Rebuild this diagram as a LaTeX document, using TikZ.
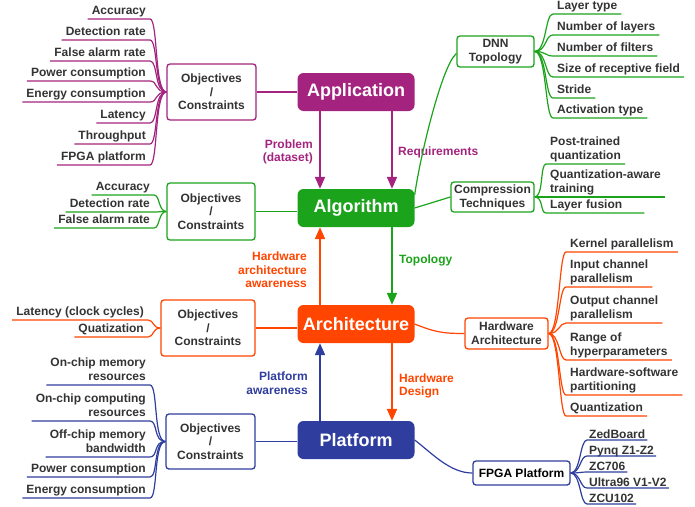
\documentclass[tikz,border=0pt]{standalone}
\usepackage{fontspec}
\setmainfont{Liberation Sans}
\usetikzlibrary{arrows.meta,calc}
\definecolor{cpur}{HTML}{A3237E}
\definecolor{cgre}{HTML}{1CA31C}
\definecolor{cora}{HTML}{FF4500}
\definecolor{cblu}{HTML}{2F3E9E}
\definecolor{ctxt}{HTML}{333333}
\begin{document}
\begin{tikzpicture}[x=1pt,y=-1pt,
 main/.style={rounded corners=6pt, minimum width=117pt, minimum height=38pt, text=white, font=\fontsize{18}{20}\selectfont\bfseries, inner sep=0pt},
 obj/.style={draw, line width=1.3pt, rounded corners=3pt, fill=white, text=ctxt, align=center, font=\fontsize{12}{13.5}\selectfont\bfseries, inner sep=0pt},
 lf/.style={text=ctxt, font=\fontsize{12}{14}\selectfont\bfseries, inner xsep=4pt, inner ysep=0pt, execute at end node=\strut},
 lleaf/.style={lf, align=right, anchor=south east},
 rleaf/.style={lf, align=left, anchor=south west},
 fleaf/.style={text=ctxt, font=\fontsize{12}{14}\selectfont\bfseries, inner xsep=2pt, inner ysep=0pt, text depth=1.5pt, anchor=south west},
 conn/.style={line width=1.2pt},
 arr/.style={line width=2pt, -{Triangle[length=12pt,width=10pt]}},
 lab/.style={font=\fontsize{12}{13.5}\selectfont\bfseries, inner sep=0pt}
]
\useasboundingbox (0,0) rectangle (695,506);

% main nodes
\node[main, fill=cpur] (app) at (356,92) {Application};
\node[main, fill=cgre] (alg) at (356,208) {Algorithm};
\node[main, fill=cora] (arc) at (356,324) {Architecture};
\node[main, fill=cblu] (plt) at (356,440) {Platform};
\coordinate (xl) at (320,0);
\coordinate (xr) at (392,0);

% vertical arrows
\draw[arr, cpur] (app.south -| xl) -- (alg.north -| xl);
\draw[arr, cpur] (app.south -| xr) -- (alg.north -| xr);
\draw[arr, cgre] (alg.south -| xr) -- (arc.north -| xr);
\draw[arr, cora] (arc.north -| xl) -- (alg.south -| xl);
\draw[arr, cora] (arc.south -| xr) -- (plt.north -| xr);
\draw[arr, cblu] (plt.north -| xl) -- (arc.south -| xl);

% arrow labels
\node[lab, text=cpur, align=right, anchor=east] (lp) at (313,152) {Problem\\(dataset)};
\node[lab, text=cpur, anchor=west] (lr) at (398,152) {Requirements};
\node[lab, text=cora, align=right, anchor=east] (lh) at (307,270) {Hardware\\architecture\\awareness};
\node[lab, text=cgre, anchor=west] (lt) at (399,260) {Topology};
\node[lab, text=cblu, align=right, anchor=east] (lpa) at (308,383) {Platform\\awareness};
\node[lab, text=cora, align=left, anchor=west] (lhd) at (399,386) {Hardware\\Design};

% objectives boxes
\node[obj, draw=cpur, minimum width=89pt, minimum height=56pt] (oa) at (211.5,92) {Objectives\\/\\Constraints};
\node[obj, draw=cgre, minimum width=88pt, minimum height=57pt] (ob) at (211,211.5) {Objectives\\/\\Constraints};
\node[obj, draw=cora, minimum width=94pt, minimum height=56pt] (oc) at (208,328) {Objectives\\/\\Constraints};
\node[obj, draw=cblu, minimum width=89pt, minimum height=55pt] (od) at (210.5,441.5) {Objectives\\/\\Constraints};
\draw[conn, cpur] (oa.east) -- (oa.east -| app.west);
\draw[conn, cgre] (ob.east) -- (ob.east -| alg.west);
\draw[conn, cora] (oc.east) -- (oc.east -| arc.west);
\draw[conn, cblu] (od.east) -- (od.east -| plt.west);

% right-side boxes
\node[obj, draw=cgre, minimum width=77pt, minimum height=31pt, font=\fontsize{12}{14}\selectfont\bfseries] (dnn) at (495.5,51.5) {DNN\\Topology};
\node[obj, draw=cgre, minimum width=83pt, minimum height=30pt, font=\fontsize{12}{14}\selectfont\bfseries] (cmp) at (492.5,197) {Compression\\Techniques};
\node[obj, draw=cora, minimum width=83pt, minimum height=31pt, font=\fontsize{12}{14}\selectfont\bfseries] (hw) at (506.5,333.5) {Hardware\\Architecture};
\node[obj, draw=cblu, minimum width=97pt, minimum height=24pt, text=black] (fp) at (521.5,473) {FPGA Platform};

\draw[conn, cgre] ($(alg.north east)+(0,6)$) .. controls ($(alg.north east)+(5,-30)$) and ($(dnn.west)+(-15,15)$) .. ($(dnn.west)+(0,2)$);
\draw[conn, cgre] (alg.east) -- (cmp.west);
\draw[conn, cora] (arc.east) .. controls ($(arc.east)+(20,8)$) and ($(hw.west)+(-22,0)$) .. (hw.west);
\draw[conn, cblu] (plt.east) .. controls ($(plt.east)+(18,14)$) and ($(fp.west)+(-22,0)$) .. (fp.west);

% leaves: application objectives
\node[lleaf] (a1) at (150,19) {Accuracy};
\node[lleaf] (a2) at (150,40) {Detection rate};
\node[lleaf] (a3) at (150,61) {False alarm rate};
\node[lleaf] (a4) at (150,81) {Power consumption};
\node[lleaf] (a5) at (150,102) {Energy consumption};
\node[lleaf] (a6) at (150,123) {Latency};
\node[lleaf] (a7) at (150,144) {Throughput};
\node[lleaf] (a8) at (150,165) {FPGA platform};
\foreach \n in {a1,a2,a3,a4,a5,a6,a7,a8}
  \draw[conn, cpur] (oa.west) .. controls ($(oa.west)+(-12,0)$) and ($(\n.south east)+(8,0)$) .. (\n.south east) -- (\n.south west);

% leaves: algorithm objectives
\node[lleaf] (b1) at (154,195) {Accuracy};
\node[lleaf] (b2) at (154,212) {Detection rate};
\node[lleaf] (b3) at (154,228) {False alarm rate};
\foreach \n in {b1,b2,b3}
  \draw[conn, cgre] (ob.west) .. controls ($(ob.west)+(-8,0)$) and ($(\n.south east)+(6,0)$) .. (\n.south east) -- (\n.south west);

% leaves: architecture objectives
\node[lleaf] (c1) at (148,320) {Latency (clock cycles)};
\node[lleaf] (c2) at (148,337) {Quatization};
\foreach \n in {c1,c2}
  \draw[conn, cora] (oc.west) .. controls ($(oc.west)+(-8,0)$) and ($(\n.south east)+(6,0)$) .. (\n.south east) -- (\n.south west);

% leaves: platform objectives
\node[lleaf] (e1) at (150,385) {On-chip memory\\resources};
\node[lleaf] (e2) at (150,421) {On-chip computing\\resources};
\node[lleaf] (e3) at (150,457) {Off-chip memory\\bandwidth};
\node[lleaf] (e4) at (150,477) {Power consumption};
\node[lleaf] (e5) at (150,498) {Energy consumption};
\foreach \n in {e1,e2,e3,e4,e5}
  \draw[conn, cblu] (od.west) .. controls ($(od.west)+(-12,0)$) and ($(\n.south east)+(8,0)$) .. (\n.south east) -- (\n.south west);

% leaves: DNN topology
\node[rleaf] (d1) at (553,14) {Layer type};
\node[rleaf] (d2) at (553,35) {Number of layers};
\node[rleaf] (d3) at (553,56) {Number of filters};
\node[rleaf] (d4) at (553,77) {Size of receptive field};
\node[rleaf] (d5) at (553,98) {Stride};
\node[rleaf] (d6) at (553,118) {Activation type};
\foreach \n in {d1,d2,d3,d4,d5,d6}
  \draw[conn, cgre] (dnn.east) .. controls ($(dnn.east)+(12,0)$) and ($(\n.south west)+(-8,0)$) .. (\n.south west) -- (\n.south east);

% leaves: compression
\node[rleaf] (p1) at (546,164) {Post-trained\\quantization};
\node[rleaf] (p2) at (546,197) {Quantization-aware\\training};
\node[rleaf, text width=90pt] (p3) at (546,213) {Layer fusion};
\foreach \n in {p1,p2,p3}
  \draw[conn, cgre] (cmp.east) .. controls ($(cmp.east)+(9,0)$) and ($(\n.south west)+(-6,0)$) .. (\n.south west) -- (\n.south east);

% leaves: hardware architecture
\node[rleaf] (h1) at (566,252) {Kernel parallelism};
\node[rleaf] (h2) at (566,287) {Input channel\\parallelism};
\node[rleaf] (h3) at (566,323) {Output channel\\parallelism};
\node[rleaf] (h4) at (566,360) {Range of\\hyperparameters};
\node[rleaf] (h5) at (566,395) {Hardware-software\\partitioning};
\node[rleaf] (h6) at (566,416) {Quantization};
\foreach \n in {h1,h2,h3,h4,h5,h6}
  \draw[conn, cora] (hw.east) .. controls ($(hw.east)+(11,0)$) and ($(\n.south west)+(-7,0)$) .. (\n.south west) -- (\n.south east);

% leaves: FPGA platform
\node[fleaf] (f1) at (587,440) {ZedBoard};
\node[fleaf] (f2) at (587,456) {Pynq Z1-Z2};
\node[fleaf] (f3) at (587,472) {ZC706};
\node[fleaf] (f4) at (587,488) {Ultra96 V1-V2};
\node[fleaf] (f5) at (587,504) {ZCU102};
\foreach \n in {f1,f2,f3,f4,f5}
  \draw[conn, cblu] (fp.east) .. controls ($(fp.east)+(10,0)$) and ($(\n.south west)+(-7,0)$) .. (\n.south west) -- (\n.south east);
\end{tikzpicture}
\end{document}
